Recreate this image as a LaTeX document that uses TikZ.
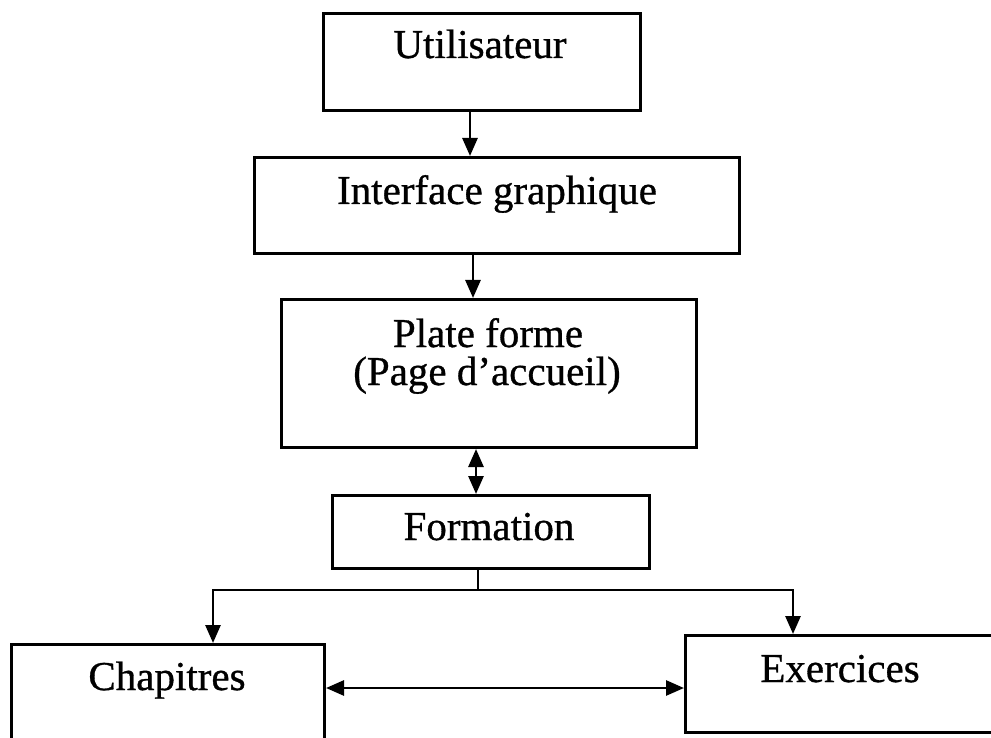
\documentclass[tikz,border=0pt]{standalone}
\usepackage{fontspec}
\setmainfont{Liberation Serif}
\newfontfamily\boxfont{Liberation Serif}[FakeBold=0.8]
\usetikzlibrary{arrows.meta}

\tikzset{
  box/.style={draw, line width=3pt, rectangle, inner sep=0pt, anchor=north west},
  lbl/.style={anchor=base, inner sep=0pt, font=\boxfont\fontsize{41}{49}\selectfont},
  link/.style={line width=2.8pt},
  arr/.style={link, -{Triangle[length=18pt,width=15pt]}},
  biarr/.style={link, {Triangle[length=18pt,width=15pt]}-{Triangle[length=18pt,width=15pt]}},
}

\begin{document}
\begin{tikzpicture}[x=1pt,y=-1pt]
  \useasboundingbox (0,0) rectangle (991,738);
  \clip (0,0) rectangle (991,738);

  % boxes
  \node[box, minimum width=317pt, minimum height=97pt] (user) at (322,12) {};
  \node[box, minimum width=485pt, minimum height=96pt] (gui)  at (253,156) {};
  \node[box, minimum width=415pt, minimum height=148pt] (plat) at (280,298) {};
  \node[box, minimum width=317pt, minimum height=73pt] (form) at (331,494) {};
  \node[box, minimum width=313pt, minimum height=110pt] (chap) at (10,643) {};
  \node[box, minimum width=312pt, minimum height=97pt] (exer) at (684,634) {};

  % labels
  \node[lbl] (userT)  at (480,58)  {Utilisateur};
  \node[lbl] (guiT)   at (497,204) {Interface graphique};
  \node[lbl] (platT1) at (488,347) {Plate forme};
  \node[lbl] (platT2) at (487,385) {(Page d’accueil)};
  \node[lbl] (formT)  at (489,540) {Formation};
  \node[lbl] (chapT)  at (167,690) {Chapitres};
  \node[lbl] (exerT)  at (840,682) {Exercices};

  % vertical chain
  \draw[arr]   (470,0 |- user.south) -- (470,0 |- gui.north);
  \draw[arr]   (473,0 |- gui.south)  -- (473,0 |- plat.north);
  \draw[biarr] (476,0 |- plat.south) -- (476,0 |- form.north);

  % branching to the two sections
  \coordinate (split) at (478,590);
  \draw[link] (478,0 |- form.south) -- (split);
  \draw[arr]  (split) -| (213,0 |- chap.north);
  \draw[arr]  (split) -| (793,0 |- exer.north);

  % link between the sections
  \draw[biarr] (chap.east |- 0,688) -- (exer.west |- 0,688);
\end{tikzpicture}
\end{document}
